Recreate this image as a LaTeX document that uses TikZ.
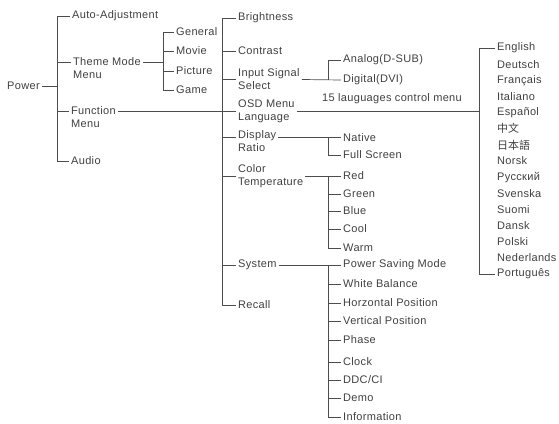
\documentclass[tikz,border=0pt]{standalone}
\usepackage{fontspec}
\setmainfont{Liberation Sans}[LetterSpace=3]
\newfontfamily\cjk{Noto Sans CJK SC}
\usepackage{tikz}

\begin{document}
\begin{tikzpicture}[x=1pt, y=-1pt,
	item/.style={anchor=west, inner sep=2pt, text=black!75, font=\fontsize{11}{13}\selectfont},
	two/.style={item, align=left},
	br/.style={draw=black!70, line width=0.7pt}]
\useasboundingbox (0,0) rectangle (559,423);
% trunks
\coordinate (t0) at (57,0);
\coordinate (t1) at (163,0);
\coordinate (t2) at (222,0);
\coordinate (t3) at (328,0);
\coordinate (t4) at (479,0);

% level 0 and 1
\node[item] (pw) at (5,86) {Power};
\node[item] (auto) at (70,16) {Auto-Adjustment};
\node[two] (theme) at (71,68.5) {Theme Mode\\Menu};
\node[two] (func) at (69,117.5) {Function\\Menu};
\node[item] (audio) at (69,161) {Audio};

% theme modes
\node[item] (gen) at (174,32) {General};
\node[item] (movie) at (174,51) {Movie};
\node[item] (pic) at (174,71) {Picture};
\node[item] (game) at (174,90) {Game};

% function menu
\node[item] (bright) at (236,18) {Brightness};
\node[item] (contr) at (236,51) {Contrast};
\node[two] (input) at (236,79.5) {Input Signal\\Select};
\node[two] (osd) at (236,111) {OSD Menu\\Language};
\node[two] (disp) at (236,141.5) {Display\\Ratio};
\node[two] (color) at (236,176) {Color\\Temperature};
\node[item] (sys) at (236,265) {System};
\node[item] (recall) at (236,305) {Recall};

% level 3
\node[item] (ana) at (341,60) {Analog(D-SUB)};
\node[item] (dig) at (341,80) {Digital(DVI)};
\node[item] (lang15) at (320,99) {15 lauguages control menu};
\node[item] (native) at (341,137.5) {Native};
\node[item] (full) at (341,155) {Full Screen};
\node[item] (red) at (341,176) {Red};
\node[item] (green) at (341,194) {Green};
\node[item] (blue) at (341,211) {Blue};
\node[item] (cool) at (341,229) {Cool};
\node[item] (warm) at (341,248) {Warm};
\node[item] (psm) at (341,265) {Power Saving Mode};
\node[item] (wb) at (341,284) {White Balance};
\node[item] (hp) at (341,303) {Horzontal Position};
\node[item] (vp) at (341,321) {Vertical Position};
\node[item] (phase) at (341,340) {Phase};
\node[item] (clock) at (341,362) {Clock};
\node[item] (ddc) at (341,380) {DDC/CI};
\node[item] (demo) at (341,398) {Demo};
\node[item] (info) at (341,417) {Information};

% languages
\foreach \l [count=\i from 0] in {English, Deutsch, Français, Italiano, Español, {{\cjk 中文}}, {{\cjk 日本語}}, Norsk, Русский, Svenska, Suomi, Dansk, Polski, Nederlands, Português}
	\node[item] (lg\i) at (495,{48+16.14*\i}) {\l};

% connectors
\draw[br] (pw.east) -- (pw.east -| t0);
\draw[br] (auto.west) -- (auto.west -| t0) |- (audio.west);
\draw[br] ([yshift=6.5pt]theme.west) -- ([yshift=6.5pt]theme.west -| t0);
\draw[br] ([yshift=6.5pt]func.west) -- ([yshift=6.5pt]func.west -| t0);

\draw[br] ([yshift=6.5pt]theme.east) -- ([yshift=6.5pt]theme.east -| t1);
\draw[br] (gen.west) -- (gen.west -| t1) |- (game.west);
\draw[br] (movie.west) -- (movie.west -| t1);
\draw[br] (pic.west) -- (pic.west -| t1);

\draw[br] ([yshift=6.5pt]func.east) -- (osd.west);
\draw[br] (bright.west) -- (bright.west -| t2) |- (recall.west);
\foreach \n in {contr, input, color, sys}
	\draw[br] (\n.west) -- (\n.west -| t2);
\draw[br] ([yshift=4pt]disp.west) -- ([yshift=4pt]disp.west -| t2);

\draw[br] (input.east) -- (dig.west);
\draw[br] (ana.west) -- (ana.west -| t3) -- (t3 |- dig.west);
\draw[br] ([yshift=4pt]disp.east) -- (native.west);
\draw[br] (t3 |- native.west) |- (full.west);
\draw[br] (color.east) -- (red.west);
\draw[br] (t3 |- red.west) |- (warm.west);
\foreach \n in {green, blue, cool}
	\draw[br] (\n.west) -- (\n.west -| t3);
\draw[br] (sys.east) -- (psm.west);
\draw[br] (t3 |- psm.west) |- (info.west);
\foreach \n in {wb, hp, vp, phase, clock, ddc, demo}
	\draw[br] (\n.west) -- (\n.west -| t3);

\draw[br] (osd.east) -- (osd.east -| t4);
\draw[br] (lg0.west) -- (lg0.west -| t4) |- (lg14.west);
\end{tikzpicture}
\end{document}
